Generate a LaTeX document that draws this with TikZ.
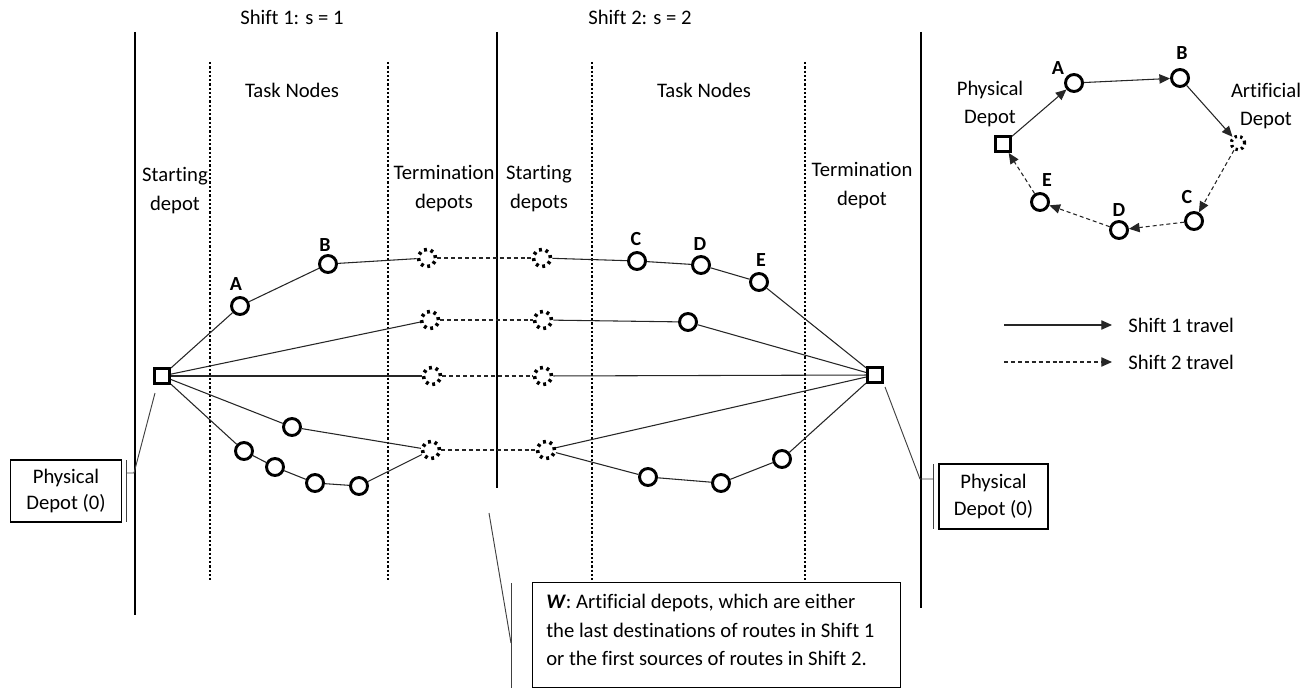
\documentclass[tikz,border=0pt]{standalone}
\usepackage{fontspec}
\setmainfont{Carlito}[Ligatures={NoCommon}]
\usetikzlibrary{arrows.meta}
\begin{document}
\begin{tikzpicture}[x=0.75pt,y=-0.75pt,
  every node/.style={font=\fontsize{15.5}{21}\selectfont},
  task/.style={circle, draw, line width=2.2pt, minimum size=12.75pt, inner sep=0pt},
  depot/.style={rectangle, draw, line width=2.2pt, minimum size=11.25pt, inner sep=0pt},
  art/.style={circle, draw, line width=2.7pt, dash pattern=on 2.2pt off 2.8pt, minimum size=12.75pt, inner sep=0pt},
  sart/.style={circle, draw, line width=2.4pt, dash pattern=on 1.8pt off 2.5pt, minimum size=10pt, inner sep=0pt},
  lbl/.style={font=\fontsize{15}{18}\selectfont\bfseries, inner sep=0pt},
  txt/.style={align=center, inner sep=0pt},
  route/.style={draw=black!85, line width=0.8pt},
  route2/.style={route, dash pattern=on 3pt off 2.2pt},
  divider/.style={line width=0.8pt},
  dotdiv/.style={line width=2pt, dash pattern=on 1.7pt off 1.5pt},
  callout/.style={draw=black!75, line width=0.7pt},
  arr/.style={-{Triangle[length=8pt,width=7pt]}},
  box/.style={draw, line width=0.8pt, inner sep=0pt, align=center},
]
\useasboundingbox (0,0) rectangle (1314,688);

% dividers
\draw[divider] (135,32) -- (135,615);
\draw[divider] (497,32) -- (497,488);
\draw[divider] (921,32) -- (921,608);
\draw[dotdiv] (210,62) -- (210,580);
\draw[dotdiv] (388,62) -- (388,580);
\draw[dotdiv] (592,62) -- (592,580);
\draw[dotdiv] (805,62) -- (805,580);

% headings
\node[txt] (h1) at (292,17) {Shift 1: s = 1};
\node[txt] (h2) at (640,17) {Shift 2: s = 2};
\node[txt] (tn1) at (292,90) {Task Nodes};
\node[txt] (tn2) at (704,90) {Task Nodes};
\node[txt, font=\fontsize{15.5}{21.75}\selectfont] (sd1) at (175,191) {Starting\\depot};
\node[txt, font=\fontsize{15.5}{21.75}\selectfont] (td1) at (444,189) {Termination\\depots};
\node[txt, font=\fontsize{15.5}{21.75}\selectfont] (sd2) at (539,189) {Starting\\depots};
\node[txt, font=\fontsize{15.5}{21.75}\selectfont] (td2) at (862,186) {Termination\\depot};

% depots
\node[depot] (dL) at (162,376) {};
\node[depot] (dR) at (875,375) {};

% shift 1 task nodes
\node[task] (a1) at (240,306) {};
\node[task] (b1) at (328,264) {};
\node[task] (m1) at (292,427) {};
\node[task] (l1) at (244,451) {};
\node[task] (l2) at (275,467) {};
\node[task] (l3) at (315,483) {};
\node[task] (l4) at (359,486) {};
\node[lbl] (la) at (236,284) {A};
\node[lbl] (lb) at (325,245) {B};

% artificial depots
\node[art] (t1) at (427,258) {};
\node[art] (t2) at (430,320) {};
\node[art] (t3) at (432,376) {};
\node[art] (t4) at (431,450) {};
\node[art] (s1) at (542,258) {};
\node[art] (s2) at (543,320) {};
\node[art] (s3) at (543,376) {};
\node[art] (s4) at (546,450) {};

% shift 2 task nodes
\node[task] (c2) at (637,261) {};
\node[task] (d2) at (701,265) {};
\node[task] (e2) at (759,282) {};
\node[task] (r2) at (688,322) {};
\node[task] (q1) at (648,477) {};
\node[task] (q2) at (721,483) {};
\node[task] (q3) at (782,459) {};
\node[lbl] (lc) at (636,239) {C};
\node[lbl] (ld) at (700,244) {D};
\node[lbl] (le) at (761,260) {E};

% shift 1 routes
\draw[route] (dL) -- (a1) -- (b1) -- (t1);
\draw[route] (dL) -- (t2);
\draw[route] (dL) -- (t3);
\draw[route] (dL) -- (m1) -- (t4);
\draw[route] (dL) -- (l1) -- (l2) -- (l3) -- (l4) -- (t4);
% links
\draw[route2] (t1) -- (s1);
\draw[route2] (t2) -- (s2);
\draw[route2] (t3) -- (s3);
\draw[route2] (t4) -- (s4);
% shift 2 routes
\draw[route] (s1) -- (c2) -- (d2) -- (e2) -- (dR);
\draw[route] (s2) -- (r2) -- (dR);
\draw[route] (s3) -- (dR);
\draw[route] (s4) -- (dR);
\draw[route] (s4) -- (q1) -- (q2) -- (q3) -- (dR);

% physical depot callouts
\node[box, minimum width=83.25pt, minimum height=46.5pt, font=\fontsize{15.5}{20}\selectfont] (pL) at (66,491) {Physical\\Depot (0)};
\draw[callout] (155,393) -- (134,473) -- (126,473);
\draw[callout] (126,460) -- (126,522);
\node[box, minimum width=81.75pt, minimum height=48.75pt, font=\fontsize{15.5}{20}\selectfont] (pR) at (993.5,496.5) {Physical\\Depot (0)};
\draw[callout] (885,387) -- (920,479) -- (933,479);
\draw[callout] (933,464) -- (933,529);

% W box
\node[draw, line width=0.8pt, anchor=north west, minimum width=276pt, minimum height=78.75pt, inner sep=0pt] (wbox) at (532,582) {};
\node[anchor=north west, align=left, inner sep=0pt, font=\fontsize{15.5}{21.5}\selectfont] (wtxt) at (546,594) {\textbf{\textit{W}}: Artificial depots, which are either\\the last destinations of routes in Shift 1\\or the first sources of routes in Shift 2.};
\draw[callout] (489,513) -- (511,643);
\draw[callout] (511,583) -- (511,688);

% inset
\node[depot] (isq) at (1003,144) {};
\node[task] (iA) at (1074,83) {};
\node[task] (iB) at (1180,78) {};
\node[sart] (iW) at (1238,143) {};
\node[task] (iC) at (1194,221) {};
\node[task] (iD) at (1119,230) {};
\node[task] (iE) at (1040,202) {};
\node[lbl] (ila) at (1058,68) {A};
\node[lbl] (ilb) at (1182,53) {B};
\node[lbl] (ilc) at (1187,197) {C};
\node[lbl] (ild) at (1119,210) {D};
\node[lbl] (ile) at (1047,180) {E};
\node[txt, font=\fontsize{15.5}{20.5}\selectfont] (ipd) at (990,104) {Physical\\Depot};
\node[txt, font=\fontsize{15.5}{20.5}\selectfont] (iad) at (1266,106) {Artificial\\Depot};
\draw[route, arr] (isq) -- (iA);
\draw[route, arr] (iA) -- (iB);
\draw[route, arr] (iB) -- (iW);
\draw[route2, arr] (iW) -- (iC);
\draw[route2, arr] (iC) -- (iD);
\draw[route2, arr] (iD) -- (iE);
\draw[route2, arr] (iE) -- (isq);

% legend
\coordinate (k1a) at (1004,325);
\coordinate (k1b) at (1112,325);
\coordinate (k2a) at (1004,362);
\coordinate (k2b) at (1112,362);
\draw[route, arr] (k1a) -- (k1b);
\draw[route2, arr] (k2a) -- (k2b);
\node[anchor=west, inner sep=0pt] (k1t) at (1128,325) {Shift 1 travel};
\node[anchor=west, inner sep=0pt] (k2t) at (1128,362) {Shift 2 travel};
\end{tikzpicture}
\end{document}
